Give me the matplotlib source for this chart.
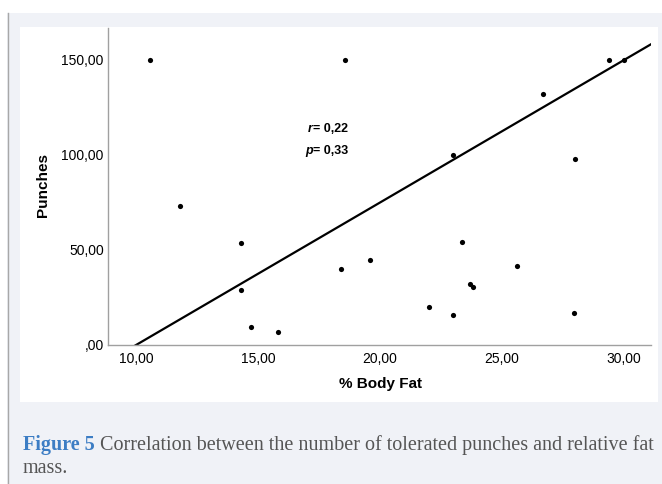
import matplotlib.pyplot as plt
from matplotlib.patches import Rectangle
from matplotlib.lines import Line2D

# --- data ---
body_fat = [10.57, 18.57, 29.39, 30.00, 26.69, 22.98, 27.99, 11.80, 14.30, 23.35,
            19.59, 25.60, 18.40, 14.30, 23.69, 23.80, 22.00, 22.99, 27.95, 14.70, 15.81]
punches = [150, 150, 150, 150, 132.1, 100, 98.1, 73.3, 53.5, 54.0,
           44.7, 41.8, 39.8, 28.8, 31.9, 30.7, 19.8, 15.8, 16.8, 9.6, 6.7]

fit_slope = 7.5
fit_intercept = -75.0

x_ticks = [10, 15, 20, 25, 30]
x_tick_labels = ["10,00", "15,00", "20,00", "25,00", "30,00"]
y_ticks = [0, 50, 100, 150]
y_tick_labels = [",00", "50,00", "100,00", "150,00"]

W, H = 662, 484
fig = plt.figure(figsize=(W / 100, H / 100), dpi=100, facecolor="white")

# page background and white panel
fig.patches.append(Rectangle((7 / W, 0), 1, 1 - 13 / H, transform=fig.transFigure,
                             facecolor="#f0f2f7", edgecolor="none", zorder=-3))
fig.lines.append(Line2D([7.5 / W, 7.5 / W], [0, 1 - 13 / H], transform=fig.transFigure,
                        color="#a8a8a8", lw=1.0, zorder=-2))
fig.patches.append(Rectangle((20 / W, 1 - 402 / H), 638 / W, 375 / H,
                             transform=fig.transFigure, facecolor="white",
                             edgecolor="none", zorder=-1))

ax = fig.add_axes([108 / W, 1 - 345 / H, 543 / W, 317 / H])
ax.patch.set_alpha(0)

ax.scatter(body_fat, punches, s=14, color="black", zorder=3, linewidths=0)

xmin, xmax = 8.85, 31.1
ax.plot([xmin, xmax], [fit_slope * xmin + fit_intercept, fit_slope * xmax + fit_intercept],
        color="black", lw=1.6, zorder=2)

ax.set_xlim(xmin, xmax)
ax.set_ylim(0, 166.8)

for s in ["top", "right"]:
    ax.spines[s].set_visible(False)
for s in ["left", "bottom"]:
    ax.spines[s].set_color("#a0a0a0")
    ax.spines[s].set_linewidth(1.0)

ax.set_xticks(x_ticks)
ax.set_xticklabels(x_tick_labels)
ax.set_yticks(y_ticks)
ax.set_yticklabels(y_tick_labels)
ax.tick_params(axis="both", length=0, labelsize=10, colors="black")
ax.tick_params(axis="x", pad=5)
ax.tick_params(axis="y", pad=3)
for lab in ax.get_xticklabels() + ax.get_yticklabels():
    lab.set_family("Liberation Sans")

ax.set_xlabel("% Body Fat", fontsize=11, fontweight="bold", family="Liberation Sans")
ax.set_ylabel("Punches", fontsize=11, fontweight="bold", family="Liberation Sans")
ax.xaxis.set_label_coords(0.501, -0.10)
ax.yaxis.set_label_coords(-0.107, 0.505)

# r / p annotation: italic bold letter followed by bold value
fig.canvas.draw()
for letter, rest, xpix, ypix in [("r", "= 0,22", 308, 129), ("p", "= 0,33", 305, 151)]:
    t = fig.text(xpix / W, 1 - ypix / H, letter, fontsize=9, fontweight="bold",
                 fontstyle="italic", family="Liberation Sans", va="center")
    fig.canvas.draw()
    b = t.get_window_extent()
    fig.text((b.x1 + 0.5) / W, 1 - ypix / H, rest, fontsize=9, fontweight="bold",
             family="Liberation Sans", va="center")

# caption
cap_size = 14.5
t1 = fig.text(23 / W, 1 - 450 / H, "Figure 5", fontsize=cap_size, fontweight="bold",
              color="#3c7dc4", family="Liberation Serif", va="baseline")
fig.canvas.draw()
bb = t1.get_window_extent()
fig.text((bb.x1 + 5) / W, 1 - 450 / H,
         "Correlation between the number of tolerated punches and relative fat",
         fontsize=cap_size, color="#555555", family="Liberation Serif", va="baseline")
fig.text(23 / W, 1 - 473 / H, "mass.", fontsize=cap_size, color="#555555",
         family="Liberation Serif", va="baseline")

fig.savefig("out.png", dpi=100, facecolor="white")
